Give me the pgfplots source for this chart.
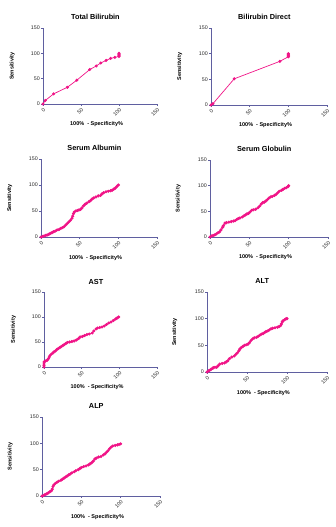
\documentclass[border=0pt]{standalone}
\usepackage{pgfplots}
\pgfplotsset{compat=1.18}
\usepackage{fontspec}
\setmainfont{Liberation Sans}

\definecolor{rocpink}{RGB}{240,20,135}
\definecolor{axiscol}{RGB}{95,95,160}
\definecolor{lblcol}{RGB}{40,40,40}

\pgfplotsset{
  roc/.style={
    scale only axis,
    anchor=south west,
    xmin=0, xmax=150, ymin=0, ymax=150,
    axis lines=left,
    axis line style={-, draw=axiscol, line width=0.6pt},
    xtick={0,50,100,150}, ytick={0,50,100,150},
    tick align=outside,
    major tick length=2pt,
    tick style={draw=axiscol, line width=0.5pt},
    ticklabel style={font=\fontsize{5.3}{6}\selectfont, text=lblcol},
    /pgf/number format/assume math mode=true,
    xticklabel style={rotate=45, anchor=north east, inner sep=1pt},
    yticklabel style={inner sep=1pt},
    clip=false,
    xlabel={100\%\ \ - Specificity\%},
    ylabel={Sensitivity},
    every axis title/.style={font=\bfseries\fontsize{7.3}{8}\selectfont,
      at={(axis description cs:0.46,1.14)}, anchor=center},
    xlabel style={font=\bfseries\fontsize{5.5}{6}\selectfont, inner sep=0pt,
      at={(axis description cs:0.47,-0.265)}, anchor=center},
    ylabel style={font=\bfseries\fontsize{5.5}{6}\selectfont, inner sep=0pt,
      at={(axis description cs:-0.27,0.5)}, anchor=center},
  },
  rocline/.style={color=rocpink, line width=0.7pt, mark=*, mark size=1.2pt,
    mark options={draw=rocpink, fill=rocpink}},
}

\begin{document}
\begin{tikzpicture}
\useasboundingbox (0pt,0pt) rectangle (335pt,-527pt);

% Total Bilirubin
\begin{axis}[roc, at={(43pt,-104pt)}, width=114pt, height=76pt, title={Total Bilirubin}]
\addplot[rocline] coordinates {
(0,0) (3,7) (14,20) (32,33) (44.5,47) (61.5,68) (70,75) (76,81) (83,86)
(89,90) (94.6,92) (100,94) (100,96) (100,98) (100,100)};
\end{axis}

% Bilirubin Direct
\begin{axis}[roc, at={(211pt,-105pt)}, width=116pt, height=77pt, title={Bilirubin Direct}]
\addplot[rocline] coordinates {
(0,0) (2.5,2.5) (30,51) (89,85) (100,94) (100,96) (100,98) (100,100)};
\end{axis}

% Serum Albumin
\begin{axis}[roc, at={(41pt,-237pt)}, width=116pt, height=78pt, title={Serum Albumin}]
\addplot[rocline] coordinates {
(0,0) (2,1) (4,2) (6,3) (8,4) (10,5) (12,7) (14,8) (16,10) (18,11)
(20,13) (22,14) (24,15) (26,17) (28,18) (30,20) (32,23) (34,26) (36,29)
(38,32) (40,36) (41,40) (42,45) (43,48) (45,50) (47,51) (49,52) (51,53)
(53,56) (55,60) (57,63) (59,65) (62,68) (64,70) (66,73) (68,75) (71,77)
(74,79) (77,80) (79,83) (81,85) (84,87) (87,88) (90,89) (92,90) (94,92)
(96,94) (98,97) (100,100)};
\end{axis}

% Serum Globulin
\begin{axis}[roc, at={(210pt,-237pt)}, width=118pt, height=77pt, title={Serum Globulin}]
\addplot[rocline] coordinates {
(0,0) (2,2) (4,3) (6,4) (8,6) (10,8) (12,10) (14,14) (16,19) (17,22)
(19,27) (21,28) (24,29) (27,30) (30,31) (32,32) (34,34) (36,36) (38,37)
(41,39) (43,41) (45,43) (47,45) (49,46) (51,49) (53,52) (55,53) (58,54)
(61,57) (63,60) (65,64) (67,67) (69,68) (71,70) (73,73) (75,76) (77,78)
(79,79) (82,81) (84,83) (86,86) (88,89) (91,91) (93,93) (95,95) (97,96)
(99,98) (100,100)};
\end{axis}

% AST
\begin{axis}[roc, at={(44pt,-367pt)}, width=113pt, height=75pt, title={AST}]
\addplot[rocline] coordinates {
(0,0) (0,3) (0,6) (0,10) (1,11) (2,12) (4,13) (5,15) (6,17) (7,20)
(8,23) (10,26) (12,28) (13,30) (15,32) (17,35) (19,37) (21,39) (23,41)
(25,43) (27,45) (29,47) (31,49) (34,50) (37,51) (40,52) (43,54) (46,57)
(48,60) (51,61) (54,63) (57,65) (60,66) (64,68) (66,72) (69,76) (71,78)
(74,79) (77,80) (80,82) (83,85) (86,88) (89,90) (92,93) (95,96) (97,98)
(99,100)};
\end{axis}

% ALT
\begin{axis}[roc, at={(207pt,-372pt)}, width=120pt, height=80pt, title={ALT}]
\addplot[rocline] coordinates {
(0,0) (2,2) (3,3) (5,5) (7,7) (8,8) (10,9) (12,9) (14,12) (16,15)
(19,16) (22,17) (24,19) (26,21) (28,25) (31,28) (34,30) (36,33) (38,36)
(40,40) (41,43) (43,46) (45,48) (47,50) (49,51) (51,52) (53,55) (55,59)
(57,62) (59,64) (62,65) (64,67) (66,69) (68,71) (70,72) (72,74) (74,76)
(76,77) (78,79) (80,81) (82,82) (85,83) (88,84) (90,85) (92,87) (93,90)
(94,94) (95,96) (97,98) (99,100) (100,100)};
\end{axis}

% ALP
\begin{axis}[roc, at={(42pt,-496pt)}, width=118pt, height=79pt, title={ALP}]
\addplot[rocline] coordinates {
(0,0) (2,1) (4,3) (6,4) (8,6) (10,8) (12,10) (13,13) (14,18) (15,21)
(17,24) (19,26) (21,28) (24,30) (26,32) (28,34) (30,36) (32,38) (34,40)
(36,42) (38,44) (41,46) (43,48) (46,50) (48,52) (50,54) (53,56) (56,57)
(59,59) (61,61) (63,63) (65,66) (67,70) (69,72) (72,74) (75,75) (78,78)
(80,80) (82,83) (84,86) (86,90) (88,93) (90,95) (93,96) (96,97) (98,98)
(100,99)};
\end{axis}
\end{tikzpicture}
\end{document}
